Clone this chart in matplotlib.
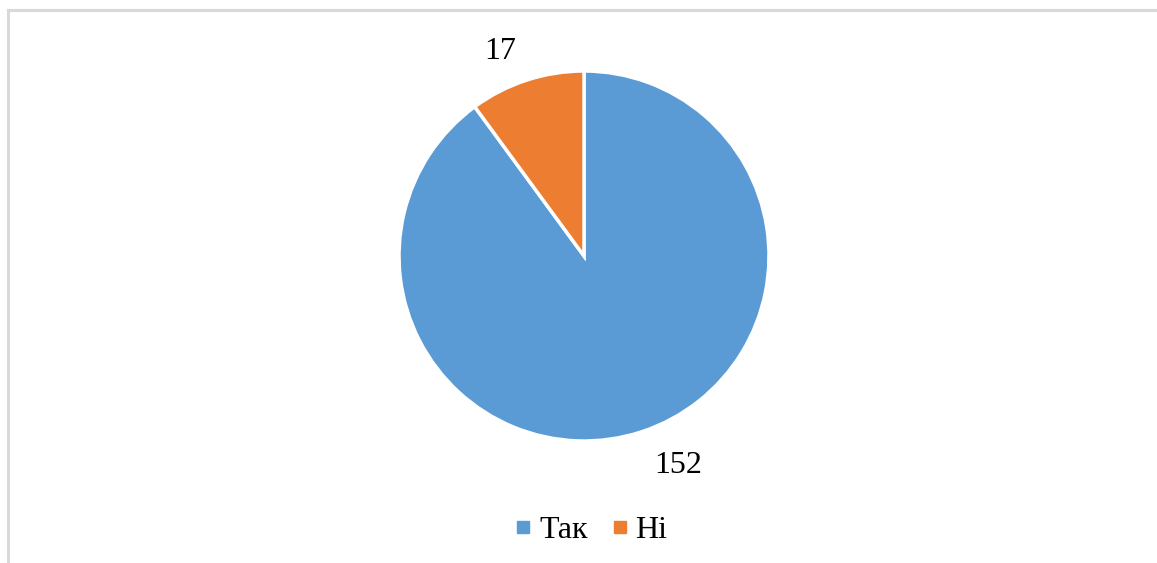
import matplotlib
matplotlib.use("Agg")
import matplotlib.pyplot as plt
from matplotlib.lines import Line2D

categories = ["Так", "Ні"]
values = [152, 17]
colors = ["#5B9BD5", "#ED7D31"]

plt.rcParams['font.family'] = ['Liberation Serif', 'DejaVu Serif']

W, H = 1157, 563
fig = plt.figure(figsize=(W / 100, H / 100), dpi=100)

# chart border (light gray), only top and left visible in the crop
bx, by = 7.5 / W, 1 - 9.5 / H
fig.add_artist(Line2D([bx, 1.0], [by, by], transform=fig.transFigure,
                      color="#D9D9D9", linewidth=2.2))
fig.add_artist(Line2D([bx, bx], [0.0, by], transform=fig.transFigure,
                      color="#D9D9D9", linewidth=2.2))

cx, cy, r = 584, H - 256, 185
ax = fig.add_axes([(cx - r) / W, (cy - r) / H, 2 * r / W, 2 * r / H])
wedges, _ = ax.pie(values, colors=colors, startangle=90, counterclock=False,
                   wedgeprops=dict(edgecolor="white", linewidth=2.5))
ax.set_xlim(-1, 1)
ax.set_ylim(-1, 1)
ax.set_aspect("equal")
ax.axis("off")

label_pos = [(0.508, -1.135), (-0.454, 1.108)]
for v, (x, y) in zip(values, label_pos):
    ax.text(x, y, str(v), ha="center", va="center", fontsize=23, color="#000000")

handles = [Line2D([], [], marker="s", linestyle="none", markersize=8.5,
                  markerfacecolor=c, markeredgecolor=c) for c in colors]
fig.legend(handles, categories, loc="center", bbox_to_anchor=(589 / W, 1 - 530 / H),
           ncol=2, frameon=False, fontsize=23, handletextpad=0.1,
           columnspacing=0.6, handlelength=0.8)

fig.savefig("out.png", dpi=100, facecolor="white")
